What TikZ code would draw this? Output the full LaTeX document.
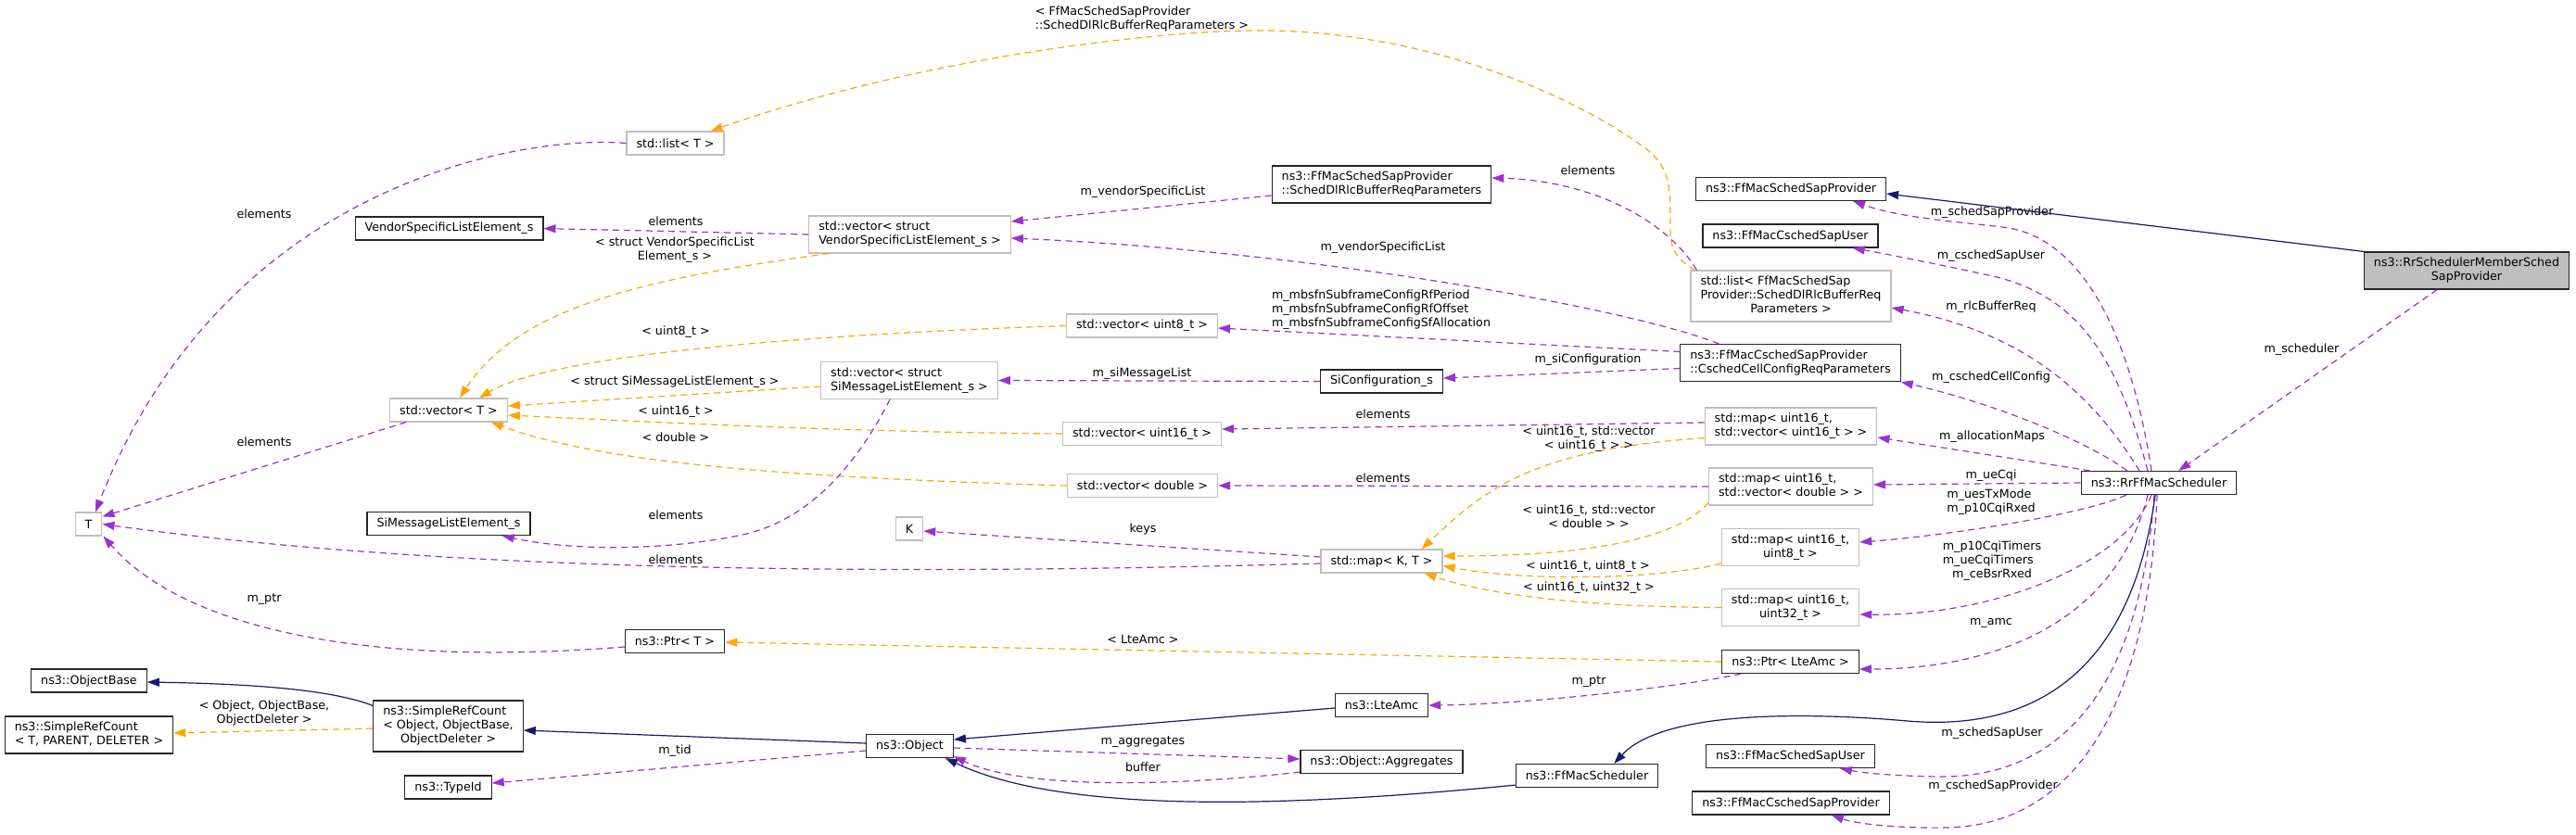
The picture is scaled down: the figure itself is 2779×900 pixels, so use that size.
\documentclass[tikz,border=0pt]{standalone}
\usepackage{fontspec}
\setmainfont{DejaVu Sans}
\usepackage{tikz}
\usetikzlibrary{arrows.meta, calc}
\definecolor{edgePurple}{HTML}{9A32CD}
\definecolor{edgeOrange}{HTML}{FFA500}
\definecolor{edgeNavy}{HTML}{191970}
\definecolor{boxGrey}{HTML}{BFBFBF}
\newcommand{\dxfont}{\fontsize{12.7}{15}\selectfont}
\newcommand{\twolines}[2]{\begin{tabular}{@{}l@{}}#1\\\multicolumn{1}{@{}c@{}}{#2}\end{tabular}}
\newcommand{\threelines}[3]{\begin{tabular}{@{}l@{}}#1\\#2\\\multicolumn{1}{@{}c@{}}{#3}\end{tabular}}

\begin{document}
\begin{tikzpicture}[x=1pt, y=-1pt, >={Triangle[length=13pt, width=9pt]},
    cls/.style={draw=black!85, line width=1.2pt, fill=white, font=\dxfont, inner xsep=10.5pt, inner ysep=5pt, minimum height=25pt},
    tcls/.style={cls, draw=boxGrey},
    usage/.style={->, edgePurple, line width=1.2pt, dash pattern=on 7pt off 5pt},
    templ/.style={usage, edgeOrange},
    inherit/.style={->, edgeNavy, line width=1.2pt},
    lab/.style={font=\dxfont, inner sep=0pt, text=black}]
    \path[use as bounding box, fill=white] (0,0) rectangle (2779,900);

    % classes
    \node[tcls] (list_t) at (728.5,154.5) {std::list< T >};
    \node[cls] (vsle) at (484.5,246.5) {VendorSpecificListElement\_s};
    \node[tcls] (vec_t) at (484,442.5) {std::vector< T >};
    \node[tcls] (tt) at (95.5,565.5) {T};
    \node[cls] (sile) at (484,565) {SiMessageListElement\_s};
    \node[cls] (ptr_t) at (728,692) {ns3::Ptr< T >};
    \node[cls] (objbase) at (96,734.5) {ns3::ObjectBase};
    \node[cls] (src_t) at (96,793) {\twolines{ns3::SimpleRefCount}{< T, PARENT, DELETER >}};
    \node[cls] (src_obj) at (483.5,783.5) {\threelines{ns3::SimpleRefCount}{< Object, ObjectBase,}{ObjectDeleter >}};
    \node[cls] (typeid) at (483.5,849.5) {ns3::TypeId};
    \node[tcls] (vec_vsle) at (981.5,253) {\twolines{std::vector< struct}{VendorSpecificListElement\_s >}};
    \node[cls] (dlrlc) at (1490.5,199) {\twolines{ns3::FfMacSchedSapProvider}{::SchedDlRlcBufferReqParameters}};
    \node[tcls] (vec_u8) at (1232,351.5) {std::vector< uint8\_t >};
    \node[tcls] (vec_sile) at (981,410.5) {\twolines{std::vector< struct}{SiMessageListElement\_s >}};
    \node[cls] (sicfg) at (1490.5,411.5) {SiConfiguration\_s};
    \node[tcls] (vec_u16) at (1232,468) {std::vector< uint16\_t >};
    \node[tcls] (vec_dbl) at (1232.5,524) {std::vector< double >};
    \node[tcls] (kk) at (981,570.5) {K};
    \node[tcls] (map_kt) at (1490.5,605.5) {std::map< K, T >};
    \node[cls] (lteamc) at (1490.5,761) {ns3::LteAmc};
    \node[cls] (object) at (981.5,805) {ns3::Object};
    \node[cls] (aggr) at (1490.5,822) {ns3::Object::Aggregates};
    \node[cls] (ffsched) at (1712,837) {ns3::FfMacScheduler};
    \node[cls] (schedprov) at (1932,204) {ns3::FfMacSchedSapProvider};
    \node[cls] (cschuser) at (1931.5,254.5) {ns3::FfMacCschedSapUser};
    \node[tcls] (list_dlrlc) at (1932,319.5) {\threelines{std::list< FfMacSchedSap}{Provider::SchedDlRlcBufferReq}{Parameters >}};
    \node[cls] (cellcfg) at (1931.5,391.5) {\twolines{ns3::FfMacCschedSapProvider}{::CschedCellConfigReqParameters}};
    \node[tcls] (map_vu16) at (1932,460) {\twolines{std::map< uint16\_t,}{std::vector< uint16\_t > >}};
    \node[tcls] (map_vdbl) at (1932,525) {\twolines{std::map< uint16\_t,}{std::vector< double > >}};
    \node[tcls] (map_u8) at (1931.5,590.5) {\twolines{std::map< uint16\_t,}{uint8\_t >}};
    \node[tcls] (map_u32) at (1931.5,655.5) {\twolines{std::map< uint16\_t,}{uint32\_t >}};
    \node[cls] (ptr_amc) at (1931.5,714) {ns3::Ptr< LteAmc >};
    \node[cls] (schuser) at (1931.5,816) {ns3::FfMacSchedSapUser};
    \node[cls] (cschprov) at (1932,866.5) {ns3::FfMacCschedSapProvider};
    \node[cls] (rrsched) at (2329,521) {ns3::RrFfMacScheduler};
    \node[cls, fill=boxGrey] (rrprov) at (2661,292) {\twolines{ns3::RrSchedulerMemberSched}{SapProvider}};

    % template instances
    \draw[templ] ($(list_dlrlc.north west)+(5,0)$) .. controls (1800,275) and (1802,260) .. (1802,235) .. controls (1802,195) and (1800,175) .. (1765,153) .. controls (1690,100) and (1530,30) .. (1347,33) .. controls (1250,34) and (1000,60) .. ($(list_t.north east)+(-15,0)$) node[lab] (l_tlist) at (1232,21) {\twolines{< FfMacSchedSapProvider}{::SchedDlRlcBufferReqParameters >}};
    \draw[templ] ($(vec_vsle.south west)+(22,0)$) .. controls (700,300) and (560,330) .. ($(vec_t.north)+(12,0)$) node[lab] (l_tvsle) at (728,270) {\twolines{< struct VendorSpecificList}{Element\_s >}};
    \draw[templ] (vec_u8.west) .. controls (900,360) and (600,380) .. ($(vec_t.north east)+(-31,0)$) node[lab] (l_tu8) at (729,358) {< uint8\_t >};
    \draw[templ] ($(vec_sile.west)+(0,6.5)$) -- ($(vec_t.east)+(0,-4.5)$) node[lab] (l_tsile) at (728,412) {< struct SiMessageListElement\_s >};
    \draw[templ] (vec_u16.west) .. controls (900,466) and (700,455) .. ($(vec_t.east)+(0,5.5)$) node[lab] (l_tu16) at (729,444) {< uint16\_t >};
    \draw[templ] (vec_dbl.west) .. controls (850,515) and (650,500) .. ($(vec_t.south east)+(-18,0)$) node[lab] (l_tdbl) at (729,472) {< double >};
    \draw[templ] ($(map_vu16.south west)+(0,-8)$) .. controls (1650,485) and (1600,530) .. ($(map_kt.north east)+(-23,0)$) node[lab] (l_tmvu16) at (1714,474) {\twolines{< uint16\_t, std::vector}{< uint16\_t > >}};
    \draw[templ] ($(map_vdbl.south west)+(0,-3)$) .. controls (1810,580) and (1720,600) .. ($(map_kt.east)+(0,-5.5)$) node[lab] (l_tmvdbl) at (1714,559) {\twolines{< uint16\_t, std::vector}{< double > >}};
    \draw[templ] ($(map_u8.south west)+(0,-3)$) .. controls (1790,625) and (1650,628) .. ($(map_kt.east)+(0,5)$) node[lab] (l_tmu8) at (1713,611) {< uint16\_t, uint8\_t >};
    \draw[templ] (map_u32.west) .. controls (1700,655) and (1600,640) .. ($(map_kt.south east)+(-20,0)$) node[lab] (l_tmu32) at (1714,634) {< uint16\_t, uint32\_t >};
    \draw[templ] (ptr_amc.west) -- ($(ptr_t.east)+(0,1)$) node[lab] (l_tamc) at (1233,690) {< LteAmc >};
    \draw[templ] ($(src_obj.west)+(0,2.5)$) -- ($(src_t.east)+(0,-2)$) node[lab] (l_tsrc) at (285,770) {\twolines{< Object, ObjectBase,}{ObjectDeleter >}};

    % members
    \draw[usage] (list_t.west) .. controls (560,145) and (240,200) .. ($(tt.north)+(7.5,0)$) node[lab] (l_el1) at (285,231) {elements};
    \draw[usage] (vec_vsle.west) -- (vsle.east) node[lab] (l_el2) at (729,239) {elements};
    \draw[usage] ($(dlrlc.west)+(0,12)$) -- ($(vec_vsle.east)+(0,-14)$) node[lab] (l_vsl1) at (1233,207) {m\_vendorSpecificList};
    \draw[usage] ($(cellcfg.north west)+(42,0)$) .. controls (1750,330) and (1400,270) .. ($(vec_vsle.east)+(0,4)$) node[lab] (l_vsl2) at (1492,267) {m\_vendorSpecificList};
    \draw[usage] ($(list_dlrlc.north west)+(7,0)$) .. controls (1800,240) and (1720,195) .. ($(dlrlc.east)+(0,-7)$) node[lab] (l_el3) at (1713,184) {elements};
    \draw[usage] ($(cellcfg.west)+(0,-12)$) -- ($(vec_u8.east)+(0,2.5)$) node[lab] (l_mbsfn) at (1490,334) {\threelines{m\_mbsfnSubframeConfigRfPeriod}{m\_mbsfnSubframeConfigRfOffset}{m\_mbsfnSubframeConfigSfAllocation}};
    \draw[usage] ($(cellcfg.west)+(0,6)$) -- ($(sicfg.east)+(0,-3.5)$) node[lab] (l_sicfg) at (1713,388) {m\_siConfiguration};
    \draw[usage] (sicfg.west) -- (vec_sile.east) node[lab] (l_simsg) at (1232,403) {m\_siMessageList};
    \draw[usage] ($(vec_sile.south)+(-21,0)$) .. controls (930,490) and (880,560) .. (801,577) .. controls (720,594) and (620,595) .. ($(sile.south east)+(-31,0)$) node[lab] (l_el4) at (729,556) {elements};
    \draw[usage] ($(vec_t.south west)+(18,0)$) -- ($(tt.north east)+(0,5)$) node[lab] (l_el5) at (285,477) {elements};
    \draw[usage] ($(map_kt.west)+(0,2.5)$) .. controls (1000,620) and (500,620) .. (tt.east) node[lab] (l_el6) at (729,604) {elements};
    \draw[usage] ($(map_kt.west)+(0,-4.5)$) -- ($(kk.east)+(0,2.5)$) node[lab] (l_keys) at (1233,571) {keys};
    \draw[usage] ($(map_vu16.west)+(0,-4)$) -- ($(vec_u16.east)+(0,-5)$) node[lab] (l_el7) at (1492,447) {elements};
    \draw[usage] (map_vdbl.west) -- (vec_dbl.east) node[lab] (l_el8) at (1492,516) {elements};
    \draw[usage] ($(ptr_t.west)+(0,6)$) .. controls (400,720) and (200,680) .. ($(tt.south)+(16,0)$) node[lab] (l_ptr1) at (285,647) {m\_ptr};
    \draw[usage] ($(ptr_amc.south west)+(21,0)$) .. controls (1820,740) and (1650,760) .. (lteamc.east) node[lab] (l_ptr2) at (1714,736) {m\_ptr};
    \draw[usage] ($(object.east)+(0,2)$) -- ($(aggr.west)+(0,-3)$) node[lab] (l_aggr) at (1233,801) {m\_aggregates};
    \draw[usage] ($(aggr.south west)+(0,-2)$) .. controls (1250,850) and (1100,850) .. ($(object.south east)+(0,-2)$) node[lab] (l_buf) at (1233,828) {buffer};
    \draw[usage] ($(object.west)+(0,5)$) -- ($(typeid.east)+(0,-4.5)$) node[lab] (l_tid) at (728,810) {m\_tid};
    \draw[usage] ($(rrsched.north)+(-8,0)$) .. controls (2300,370) and (2250,255) .. (2160,245) .. controls (2110,239) and (2050,235) .. ($(schedprov.south east)+(-36,0)$) node[lab] (l_ssp) at (2149,229) {m\_schedSapProvider};
    \draw[usage] ($(rrsched.north)+(-12,0)$) .. controls (2285,390) and (2245,320) .. (2150,298) .. controls (2100,287) and (2040,275) .. ($(cschuser.south east)+(-28,0)$) node[lab] (l_csu) at (2148,276) {m\_cschedSapUser};
    \draw[usage] ($(rrsched.north)+(-21,0)$) .. controls (2260,430) and (2190,360) .. ($(list_dlrlc.east)+(0,12.5)$) node[lab] (l_rlc) at (2148,331) {m\_rlcBufferReq};
    \draw[usage] ($(rrsched.north west)+(50,0)$) .. controls (2250,475) and (2150,435) .. (cellcfg.south east) node[lab] (l_ccc) at (2148,407) {m\_cschedCellConfig};
    \draw[usage] ($(rrsched.north west)+(10,0)$) -- ($(map_vu16.east)+(0,12)$) node[lab] (l_alloc) at (2149,471) {m\_allocationMaps};
    \draw[usage] (rrsched.west) -- ($(map_vdbl.east)+(0,-2)$) node[lab] (l_cqi) at (2148,513) {m\_ueCqi};
    \draw[usage] ($(rrsched.south west)+(49,0)$) .. controls (2250,555) and (2100,578) .. ($(map_u8.east)+(0,-5.5)$) node[lab] (l_txm) at (2148,542) {\twolines{m\_uesTxMode}{m\_p10CqiRxed}};
    \draw[usage] ($(rrsched.south)+(-8,0)$) .. controls (2290,610) and (2150,665) .. ($(map_u32.east)+(0,7.5)$) node[lab] (l_tmr) at (2149,605) {\threelines{m\_p10CqiTimers}{m\_ueCqiTimers}{m\_ceBsrRxed}};
    \draw[usage] ($(rrsched.south)+(-12,0)$) .. controls (2280,680) and (2140,722) .. ($(ptr_amc.east)+(0,8)$) node[lab] (l_amc) at (2148,672) {m\_amc};
    \draw[usage] ($(rrsched.south)+(-5,0)$) .. controls (2310,720) and (2240,835) .. (2100,838) .. controls (2050,838) and (2010,834) .. ($(schuser.south east)+(-38,0)$) node[lab] (l_ssu) at (2149,791) {m\_schedSapUser};
    \draw[usage] ($(rrsched.south)+(-2,0)$) .. controls (2320,720) and (2260,890) .. (2100,893) .. controls (2040,894) and (2000,888) .. ($(cschprov.south east)+(-63,0)$) node[lab] (l_csp) at (2150,848) {m\_cschedSapProvider};
    \draw[usage] ($(rrprov.south)+(-32,0)$) -- ($(rrsched.north east)+(-63,0)$) node[lab] (l_sched) at (2483,377) {m\_scheduler};

    % inheritance
    \draw[inherit] (rrprov.north west) -- ($(schedprov.east)+(0,5)$);
    \draw[inherit] ($(rrsched.south)+(-4,0)$) .. controls (2300,720) and (2200,790) .. (2058,778) .. controls (1990,772) and (1800,760) .. ($(ffsched.north east)+(-48,0)$);
    \draw[inherit] ($(ffsched.south west)+(0,-3)$) .. controls (1400,870) and (1150,880) .. ($(object.south east)+(-9,0)$);
    \draw[inherit] ($(lteamc.west)+(0,3)$) -- ($(object.east)+(0,-7)$);
    \draw[inherit] ($(object.west)+(0,-3)$) -- ($(src_obj.east)+(0,4.5)$);
    \draw[inherit] ($(src_obj.north west)+(0,6)$) .. controls (360,745) and (280,738) .. ($(objbase.east)+(0,1.5)$);
\end{tikzpicture}
\end{document}
